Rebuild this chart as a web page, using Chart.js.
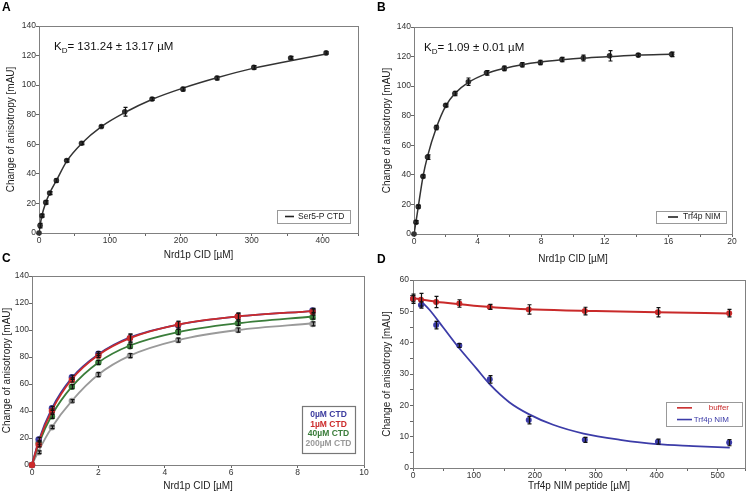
<!DOCTYPE html>
<html>
<head>
<meta charset="utf-8">
<script src="https://cdn.jsdelivr.net/npm/chart.js@4/dist/chart.umd.min.js"></script>
<style>
body { margin: 0; background: #fff; width: 748px; height: 498px; position: relative; overflow: hidden; font-family: "Liberation Sans", Arial, sans-serif; }
canvas { position: absolute; }
.letter { position: absolute; font-weight: bold; font-size: 12px; line-height: 1; color: #000; }
</style>
</head>
<body>
<canvas id="chartA" width="374" height="264" style="left:0;top:0"></canvas>
<canvas id="chartB" width="374" height="268" style="left:374px;top:0"></canvas>
<canvas id="chartC" width="374" height="249" style="left:0;top:249px"></canvas>
<canvas id="chartD" width="374" height="249" style="left:374px;top:249px"></canvas>
<div class="letter" style="left:2px;top:1px">A</div>
<div class="letter" style="left:377px;top:1px">B</div>
<div class="letter" style="left:2px;top:252px">C</div>
<div class="letter" style="left:377px;top:253px">D</div>
<script>
// A: Ser5-P CTD
var aConc = [0, 1.5, 4, 9.5, 15, 24.5, 39, 60, 88, 121, 159.5, 203, 251, 303, 355, 405];
var aAniso = [0, 5, 11.7, 20.7, 27, 35.5, 49, 60.7, 72, 82, 90.6, 97.3, 104.8, 112, 118.4, 121.8];
var aErr = [0, 1.5, 1, 1.2, 1, 1.2, 1, 1, 0.8, 3, 1, 1.2, 1.2, 1.2, 1, 0.8];
var aFitConc = [0, 1.5, 4, 9.5, 15, 24.5, 39, 60, 88, 121, 160, 203, 251, 303, 355, 405];
var aFitAniso = [0, 5, 11.5, 20.5, 27, 35.5, 48.5, 60.5, 72, 81.5, 90.5, 98, 105, 111.5, 116.5, 121];

// B: Trf4p NIM
var bConc = [0, 0.12, 0.27, 0.56, 0.85, 1.41, 1.99, 2.57, 3.42, 4.56, 5.68, 6.8, 7.95, 9.3, 10.65, 12.3, 14.1, 16.2];
var bAniso = [0, 8, 18.5, 39, 52, 72, 87, 95, 103, 109, 112, 114.5, 116, 118, 119, 120.5, 121, 121.5];
var bErr = [0, 1, 1, 1, 1.5, 1.5, 1, 1.5, 2.5, 1.5, 1.5, 1.5, 1.5, 1.5, 2, 3.5, 1, 1.5];
var bFitAniso = [0, 8, 18.5, 38.5, 52.5, 72, 86.5, 95, 102.5, 108.5, 112, 114.5, 116.3, 117.8, 119, 120, 121, 121.5];

// C: competition with CTD
var cConc = [0, 0.2, 0.6, 1.2, 2.0, 2.95, 4.4, 6.2, 8.45];
var cLabels = ['0µM CTD', '1µM CTD', '40µM CTD', '200µM CTD'];
var cColors = ['#3b3b9e', '#cc2b2b', '#3a7d3a', '#9a9a9a'];
var c0 = [0, 19, 42, 65, 82.5, 94, 103.5, 110, 114.5];
var c1 = [0, 15, 40, 63, 81, 94, 104, 110, 113.5];
var c40 = [0, 16.5, 36, 58, 76, 88, 98.5, 105, 109.5];
var c200 = [0, 9.5, 28, 47.5, 67, 81, 92.5, 100, 104.5];
var c0Err = [0, 1.5, 1.5, 1.5, 1.5, 3, 3, 2.5, 1.5];
var c1Err = [0, 1.5, 1.5, 1.5, 1.5, 3, 2.5, 2.5, 1.5];
var c40Err = [0, 1.5, 1.5, 1.5, 1.5, 1.5, 2, 1.5, 1.5];
var c200Err = [0, 1, 1, 1, 1.5, 1.5, 1.5, 1.5, 1.5];
var c0Fit = [0, 18, 42, 64.5, 82, 94.5, 104, 110, 114];
var c1Fit = [0, 17, 40.5, 63.5, 81.5, 94, 104, 110, 114];
var c40Fit = [0, 15.5, 37, 58, 76, 88.5, 98.5, 105, 110];
var c200Fit = [0, 10.5, 28, 47.5, 67, 81, 92.5, 100, 105];

// D: displacement by Trf4p NIM peptide
var dConc = [0, 13, 38, 76, 126, 190, 282, 402, 519];
var dBuffer = [54, 53.7, 53, 52.5, 51.4, 50.6, 50.1, 49.7, 49.4];
var dBufferErr = [1.5, 2, 1.8, 1.2, 0.8, 1.5, 1.2, 1.5, 1.2];
var dNim = [54, 52, 45.6, 39.1, 28.3, 15.3, 9, 8.4, 8.1];
var dNimErr = [1, 1, 1.2, 0.6, 1.2, 1.2, 0.8, 0.8, 1];
var dBufferFitConc = [0, 50, 100, 150, 200, 300, 400, 520];
var dBufferFit = [54.2, 52.8, 51.8, 51.1, 50.6, 50.1, 49.7, 49.3];
var dNimFitConc = [13, 27, 49, 76, 104, 127, 158, 190, 230, 280, 340, 400, 460, 520];
var dNimFit = [53.3, 50.5, 45, 38.2, 31.8, 26.5, 21, 17.2, 13.8, 11, 9, 7.6, 7, 6.5];

var FONT = '"Liberation Sans", Arial, sans-serif';
Chart.defaults.font.family = FONT;
Chart.defaults.color = '#333';

function pts(xs, ys) {
    return xs.map((x, i) => ({x: x, y: ys[i]}));
}

var frame = {
    id: 'frame',
    beforeDatasetsDraw(chart) {
        const a = chart.chartArea, ctx = chart.ctx;
        ctx.save();
        ctx.strokeStyle = '#808080';
        ctx.lineWidth = 1;
        ctx.strokeRect(Math.round(a.left) + 0.5, Math.round(a.top) + 0.5, Math.round(a.right - a.left), Math.round(a.bottom - a.top));
        ctx.restore();
    }
};

var errorBars = {
    id: 'errorBars',
    afterDatasetsDraw(chart) {
        const ctx = chart.ctx, xs = chart.scales.x, ys = chart.scales.y;
        chart.data.datasets.forEach((ds) => {
            if (!ds.errors) return;
            ctx.save();
            ctx.strokeStyle = '#111';
            ctx.lineWidth = 1.2;
            ds.data.forEach((p, i) => {
                const e = ds.errors[i];
                if (!e) return;
                const x = Math.round(xs.getPixelForValue(p.x)) + 0.5;
                const y1 = ys.getPixelForValue(p.y - e), y2 = ys.getPixelForValue(p.y + e);
                ctx.beginPath();
                ctx.moveTo(x, y1); ctx.lineTo(x, y2);
                ctx.moveTo(x - 2, y1); ctx.lineTo(x + 2, y1);
                ctx.moveTo(x - 2, y2); ctx.lineTo(x + 2, y2);
                ctx.stroke();
            });
            ctx.restore();
        });
    }
};

var insetLegend = {
    id: 'insetLegend',
    afterDraw(chart, args, o) {
        if (!o.items) return;
        const ctx = chart.ctx, a = chart.chartArea;
        const left = Math.round(a.right - o.right - o.width), top = Math.round(a.bottom - o.bottom - o.height);
        ctx.save();
        ctx.fillStyle = '#fff';
        ctx.fillRect(left, top, o.width, o.height);
        ctx.strokeStyle = o.border;
        ctx.lineWidth = o.borderWidth;
        ctx.strokeRect(left + 0.5, top + 0.5, o.width, o.height);
        o.items.forEach((it, i) => {
            const y = top + o.padTop + (i + 0.5) * o.rowH;
            if (o.lineTo) {
                ctx.strokeStyle = it.color;
                ctx.lineWidth = 1.6;
                ctx.beginPath();
                ctx.moveTo(left + o.lineFrom, y);
                ctx.lineTo(left + o.lineTo, y);
                ctx.stroke();
            }
            ctx.font = (it.bold ? 'bold ' : '') + o.fontSize + 'px ' + FONT;
            ctx.fillStyle = it.textColor || it.color;
            ctx.textAlign = o.textAlign;
            ctx.textBaseline = 'middle';
            let tx = left + o.textX;
            if (o.textAlign === 'center') tx = left + o.width / 2;
            if (o.textAlign === 'right') tx = left + o.width - o.textX;
            ctx.fillText(it.text, tx, y);
        });
        ctx.restore();
    }
};

var kdLabel = {
    id: 'kdLabel',
    afterDraw(chart, args, o) {
        if (!o.text) return;
        const ctx = chart.ctx, a = chart.chartArea;
        let x = a.left + o.dx;
        const y = a.top + o.dy;
        ctx.save();
        ctx.fillStyle = '#111';
        ctx.textAlign = 'left';
        ctx.textBaseline = 'alphabetic';
        ctx.font = '11.5px ' + FONT;
        ctx.fillText('K', x, y);
        x += ctx.measureText('K').width;
        ctx.font = '8px ' + FONT;
        ctx.fillText('D', x, y + 3);
        x += ctx.measureText('D').width;
        ctx.font = '11.5px ' + FONT;
        ctx.fillText(o.text, x, y);
        ctx.restore();
    }
};

Chart.register(frame, errorBars, insetLegend, kdLabel);

function axisX(max, step, every, title, height, titlePad) {
    return {
        type: 'linear', min: 0, max: max,
        border: {display: false},
        grid: {drawOnChartArea: false, drawTicks: true, tickLength: 3, color: '#666'},
        ticks: {stepSize: step, padding: 0, autoSkip: false, maxRotation: 0, color: '#333', font: {size: 8.5},
            callback: (v) => (Math.abs(v % every) < 1e-9 ? v : '')},
        title: {display: true, text: title, color: '#222', font: {size: 10}, padding: {top: 0, bottom: titlePad}},
        afterFit: (s) => { s.height = height; }
    };
}

function axisY(max, step, every, width, titlePad, labelPad) {
    return {
        type: 'linear', min: 0, max: max,
        border: {display: false},
        grid: {drawOnChartArea: false, drawTicks: true, tickLength: 3, color: '#666'},
        ticks: {stepSize: step, padding: labelPad, autoSkip: false, color: '#333', font: {size: 8.5},
            callback: (v) => (Math.abs(v % every) < 1e-9 ? v : '')},
        title: {display: true, text: 'Change of anisotropy [mAU]', color: '#222', font: {size: 10}, padding: {top: titlePad, bottom: 0}},
        afterFit: (s) => { s.width = width; }
    };
}

function pointSet(xs, ys, errs, color, radius, order) {
    return {type: 'scatter', data: pts(xs, ys), errors: errs, backgroundColor: color, borderColor: color,
        pointRadius: radius, pointHoverRadius: radius, borderWidth: 0, showLine: false, clip: false, order: order};
}

function curveSet(xs, ys, color, width, order) {
    return {type: 'scatter', data: pts(xs, ys), borderColor: color, backgroundColor: color, borderWidth: width,
        pointRadius: 0, showLine: true, cubicInterpolationMode: 'monotone', fill: false, order: order};
}

function createConfig(datasets, scales, padding, plugins) {
    const p = {legend: {display: false}, tooltip: {enabled: false}};
    Object.assign(p, plugins);
    return {
        type: 'scatter',
        data: {datasets: datasets},
        options: {
            responsive: false, animation: false, events: [],
            layout: {padding: padding},
            scales: scales,
            plugins: p
        }
    };
}

var charts = [];

charts.push(new Chart(document.getElementById('chartA'), createConfig(
    [pointSet(aConc, aAniso, aErr, '#333', 2.8, 0), curveSet(aFitConc, aFitAniso, '#333', 1.5, 1)],
    {x: axisX(450, 50, 100, 'Nrd1p CID [µM]', 31, 3), y: axisY(140, 20, 20, 39, 5, 0)},
    {left: 0, top: 26, right: 16, bottom: 0},
    {
        kdLabel: {text: '= 131.24 ± 13.17 µM', dx: 15, dy: 24},
        insetLegend: {right: 8, bottom: 10, width: 73, height: 13, padTop: 0, rowH: 13, lineFrom: 8, lineTo: 17,
            textX: 21, textAlign: 'left', fontSize: 8.5, border: '#999', borderWidth: 1,
            items: [{text: 'Ser5-P CTD', color: '#222'}]}
    }
)));

charts.push(new Chart(document.getElementById('chartB'), createConfig(
    [pointSet(bConc, bAniso, bErr, '#333', 2.8, 0), curveSet(bConc, bFitAniso, '#333', 1.5, 1)],
    {x: axisX(20, 2, 4, 'Nrd1p CID [µM]', 34, 3), y: axisY(140, 20, 20, 40, 7, 0)},
    {left: 0, top: 27, right: 16, bottom: 0},
    {
        kdLabel: {text: '= 1.09 ± 0.01 µM', dx: 10, dy: 24},
        insetLegend: {right: 6, bottom: 11, width: 70, height: 12, padTop: 0, rowH: 12, lineFrom: 12, lineTo: 22,
            textX: 27, textAlign: 'left', fontSize: 8.5, border: '#999', borderWidth: 1,
            items: [{text: 'Trf4p NIM', color: '#222'}]}
    }
)));

var cSeries = [c0, c1, c40, c200];
var cErrs = [c0Err, c1Err, c40Err, c200Err];
var cFits = [c0Fit, c1Fit, c40Fit, c200Fit];
var cOrder = [3, 2, 4, 5];
var cDatasets = [];
for (let i = 0; i < cSeries.length; i++) {
    cDatasets.push(pointSet(cConc, cSeries[i], cErrs[i], cColors[i], 3.2, cOrder[i] * 2));
    cDatasets.push(curveSet(cConc, cFits[i], cColors[i], 1.8, cOrder[i] * 2 + 1));
}

charts.push(new Chart(document.getElementById('chartC'), createConfig(
    cDatasets,
    {x: axisX(10, 2, 2, 'Nrd1p CID [µM]', 33, 6), y: axisY(140, 20, 20, 32, 1, 0)},
    {left: 0, top: 27, right: 10, bottom: 0},
    {
        insetLegend: {right: 9, bottom: 12, width: 53, height: 47, padTop: 4.3, rowH: 9.5,
            textX: 0, textAlign: 'center', fontSize: 8.5, border: '#777', borderWidth: 1.2,
            items: cLabels.map((t, i) => ({text: t, color: cColors[i], bold: true}))}
    }
)));

charts.push(new Chart(document.getElementById('chartD'), createConfig(
    [pointSet(dConc, dBuffer, dBufferErr, '#c92a2a', 3, 0), pointSet(dConc, dNim, dNimErr, '#3c3ca8', 3, 1),
     curveSet(dBufferFitConc, dBufferFit, '#c92a2a', 2, 2), curveSet(dNimFitConc, dNimFit, '#3c3ca8', 1.8, 3)],
    {x: axisX(545, 50, 100, 'Trf4p NIM peptide [µM]', 30, 6), y: axisY(60, 5, 10, 39, 7, 1)},
    {left: 0, top: 31, right: 2, bottom: 0},
    {
        insetLegend: {right: 3, bottom: 42, width: 76, height: 24, padTop: 0, rowH: 11.7, lineFrom: 11, lineTo: 26,
            textX: 13, textAlign: 'right', fontSize: 8, border: '#999', borderWidth: 1,
            items: [{text: 'buffer', color: '#c92a2a'}, {text: 'Trf4p NIM', color: '#3c3ca8'}]}
    }
)));
</script>
</body>
</html>
